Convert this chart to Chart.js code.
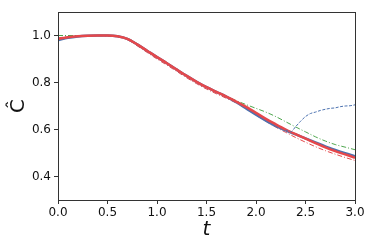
<!DOCTYPE html>
<html>
<head>
<meta charset="utf-8">
<script src="https://cdn.jsdelivr.net/npm/chart.js@4.4.0/dist/chart.umd.min.js"></script>
<style>
    html, body { margin: 0; padding: 0; background: #fff; }
    #wrap { width: 374px; height: 249px; }
</style>
</head>
<body>
<div id="wrap"><canvas id="chart" width="374" height="249"></canvas></div>
<script>
// Data
const tValues = [0, 0.1, 0.2, 0.3, 0.4, 0.5, 0.6, 0.7, 0.8, 0.9, 1.0, 1.1, 1.2, 1.3, 1.4, 1.5,
    1.6, 1.7, 1.8, 1.9, 2.0, 2.1, 2.2, 2.3, 2.4, 2.5, 2.6, 2.7, 2.8, 2.9, 3.0];

const redSolid = [0.985, 0.993, 0.997, 0.999, 1.0, 1.0, 0.997, 0.986, 0.962, 0.935, 0.908, 0.882,
    0.855, 0.828, 0.803, 0.78, 0.76, 0.74, 0.719, 0.696, 0.671, 0.645, 0.622, 0.6, 0.58, 0.561,
    0.542, 0.524, 0.508, 0.494, 0.48];

const blueSolid = [0.98, 0.99, 0.996, 0.999, 1.0, 1.0, 0.997, 0.986, 0.962, 0.935, 0.908, 0.882,
    0.855, 0.828, 0.803, 0.78, 0.76, 0.74, 0.716, 0.69, 0.663, 0.638, 0.615, 0.596, 0.579, 0.562,
    0.545, 0.528, 0.513, 0.499, 0.486];

const greenDashDot = [1.0, 1.0, 1.0, 1.0, 1.0, 1.0, 0.998, 0.988, 0.965, 0.937, 0.91, 0.884,
    0.857, 0.83, 0.805, 0.782, 0.762, 0.742, 0.723, 0.706, 0.69, 0.674, 0.655, 0.633, 0.611, 0.59,
    0.569, 0.551, 0.536, 0.525, 0.514];

const redDashDot = [0.99, 0.995, 0.998, 0.999, 0.999, 0.998, 0.994, 0.982, 0.956, 0.928, 0.9, 0.874,
    0.847, 0.82, 0.795, 0.772, 0.752, 0.733, 0.713, 0.688, 0.661, 0.635, 0.61, 0.588, 0.566, 0.546,
    0.527, 0.51, 0.495, 0.481, 0.468];

// blue dashed run that breaks away near t = 2.35
const blueDashT = [2.3, 2.35, 2.4, 2.45, 2.5, 2.55, 2.6, 2.65, 2.7, 2.75, 2.8, 2.85, 2.9, 2.95, 3.0];
const blueDash = [0.598, 0.59, 0.612, 0.635, 0.655, 0.668, 0.674, 0.681, 0.686, 0.69, 0.692, 0.697,
    0.7, 0.701, 0.705];

const xTicks = [0, 0.5, 1.0, 1.5, 2.0, 2.5, 3.0];
const yTicks = [0.4, 0.6, 0.8, 1.0];

const BLUE = '#4c72b0';
const RED = '#e5484b';
const GREEN = '#4ea64e';

function pts(xs, ys) {
    return xs.map((x, i) => ({ x: x, y: ys[i] }));
}

function line(label, xs, ys, color, width, dash) {
    return {
        label: label,
        data: pts(xs, ys),
        borderColor: color,
        borderWidth: width,
        borderDash: dash,
        pointRadius: 0,
        fill: false,
        cubicInterpolationMode: 'monotone'
    };
}

// box round the plot
const frame = {
    id: 'frame',
    afterDraw(chart) {
        const a = chart.chartArea;
        const ctx = chart.ctx;
        ctx.save();
        ctx.strokeStyle = '#333';
        ctx.lineWidth = 1;
        ctx.strokeRect(Math.round(a.left) + 0.5, Math.round(a.top) + 0.5,
            Math.round(a.right - a.left), Math.round(a.bottom - a.top));
        ctx.restore();
    }
};

const tickFont = { family: 'DejaVu Sans', size: 12 };

// Chart.js draws dataset 0 last, so the top line goes first
new Chart(document.getElementById('chart').getContext('2d'), {
    type: 'line',
    data: {
        datasets: [
            line('blue dash', blueDashT, blueDash, BLUE, 1, [3, 1.5]),
            line('red', tValues, redSolid, RED, 2.5, []),
            line('blue', tValues, blueSolid, BLUE, 2.5, []),
            line('green', tValues, greenDashDot, GREEN, 1, [5, 2, 1, 2]),
            line('red dash', tValues, redDashDot, RED, 1, [5, 2, 1, 2])
        ]
    },
    options: {
        responsive: false,
        animation: false,
        layout: { padding: { top: 12, right: 19, left: 0, bottom: 0 } },
        plugins: { legend: { display: false }, tooltip: { enabled: false } },
        scales: {
            x: {
                type: 'linear',
                min: 0,
                max: 3,
                afterBuildTicks: s => { s.ticks = xTicks.map(v => ({ value: v })); },
                afterFit: s => { s.height = 49; },
                grid: { drawOnChartArea: false, drawTicks: true, tickLength: 4, color: '#333' },
                border: { display: false },
                ticks: {
                    font: tickFont,
                    color: '#111',
                    padding: 2,
                    maxRotation: 0,
                    callback: v => v.toFixed(1)
                },
                title: {
                    display: true,
                    text: 't',
                    font: { family: 'DejaVu Sans', size: 20, style: 'italic' },
                    color: '#111',
                    padding: { top: 0, bottom: 7 }
                }
            },
            y: {
                min: 0.3,
                max: 1.1,
                afterBuildTicks: s => { s.ticks = yTicks.map(v => ({ value: v })); },
                afterFit: s => { s.width = 58; },
                grid: { drawOnChartArea: false, drawTicks: true, tickLength: 4, color: '#333' },
                border: { display: false },
                ticks: {
                    font: tickFont,
                    color: '#111',
                    padding: 3,
                    callback: v => v.toFixed(1)
                },
                title: {
                    display: true,
                    text: 'Ĉ',
                    font: { family: 'DejaVu Sans', size: 20 },
                    color: '#111',
                    padding: { top: 7, bottom: 0 }
                }
            }
        }
    },
    plugins: [frame]
});
</script>
</body>
</html>
